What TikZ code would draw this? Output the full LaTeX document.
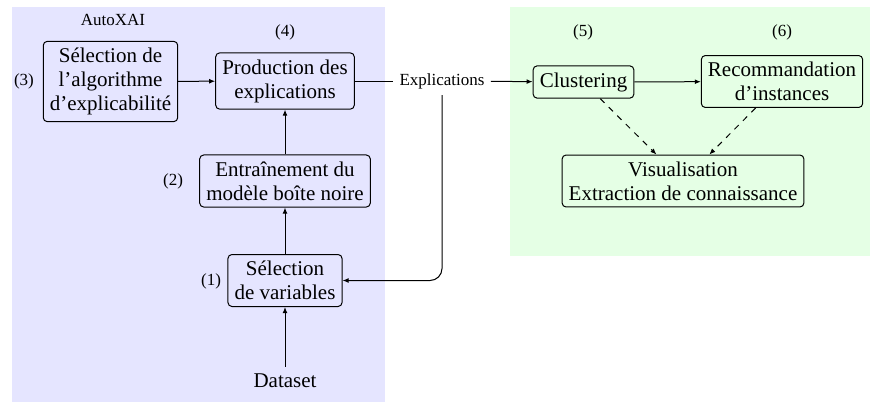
\documentclass[tikz,border=0pt]{standalone}
\usepackage{fontspec}
\setmainfont{Liberation Serif}
\newfontfamily\tms{Liberation Serif}
\usetikzlibrary{arrows.meta}
\definecolor{bluepanel}{RGB}{229,229,255}
\definecolor{greenpanel}{RGB}{229,255,229}
\begin{document}
\begin{tikzpicture}[x=0.5pt,y=-0.5pt,
  box/.style={draw, rounded corners=2pt, align=center, line width=0.5pt,
    font=\tms\fontsize{10.5}{12}\selectfont, inner sep=3.3pt},
  lbl/.style={font=\tms\fontsize{8.5}{10}\selectfont, inner sep=1pt},
  arr/.style={-{Latex[length=3pt,width=2.4pt]}, line width=0.5pt},
  darr/.style={arr, dashed}]
\useasboundingbox (0,0) rectangle (870,402);
\fill[bluepanel] (12,7) rectangle (385,402);
\fill[greenpanel] (510,7) rectangle (870,256);

\node[lbl] (autoxai) at (113,20) {AutoXAI};
\node[lbl] (n4) at (285,32) {(4)};
\node[lbl] (n3) at (24,81) {(3)};
\node[lbl] (n2) at (173,181) {(2)};
\node[lbl] (n1) at (211,281) {(1)};
\node[lbl] (n5) at (583,32) {(5)};
\node[lbl] (n6) at (782,32) {(6)};

\node[box] (algo) at (110.5,81.5) {Sélection de\\l’algorithme\\d’explicabilité};
\node[box] (prod) at (285,81) {Production des\\explications};
\node[box] (train) at (285,181) {Entraînement du\\modèle boîte noire};
\node[box] (selvar) at (285,280.5) {Sélection\\de variables};
\node[box, draw=none, fill=none] (data) at (285,381) {Dataset};
\node[lbl, inner sep=3pt] (expl) at (442,81) {Explications};

\node[box] (clust) at (583.5,82) {Clustering};
\node[box] (reco) at (782,81.5) {Recommandation\\d’instances};
\node[box] (visu) at (683,181) {Visualisation\\Extraction de connaissance};

\draw[arr] (algo) -- (prod);
\draw[arr] (train) -- (prod);
\draw[arr] (selvar) -- (train);
\draw[arr] (data) -- (selvar);
\draw[line width=0.5pt] (prod) -- (expl);
\draw[arr] (expl) -- (clust);
\draw[arr, rounded corners=6pt] (expl.south) |- (selvar.east);
\draw[arr] (clust) -- (reco);
\draw[darr] (clust) -- (visu);
\draw[darr] (reco) -- (visu);
\end{tikzpicture}
\end{document}
